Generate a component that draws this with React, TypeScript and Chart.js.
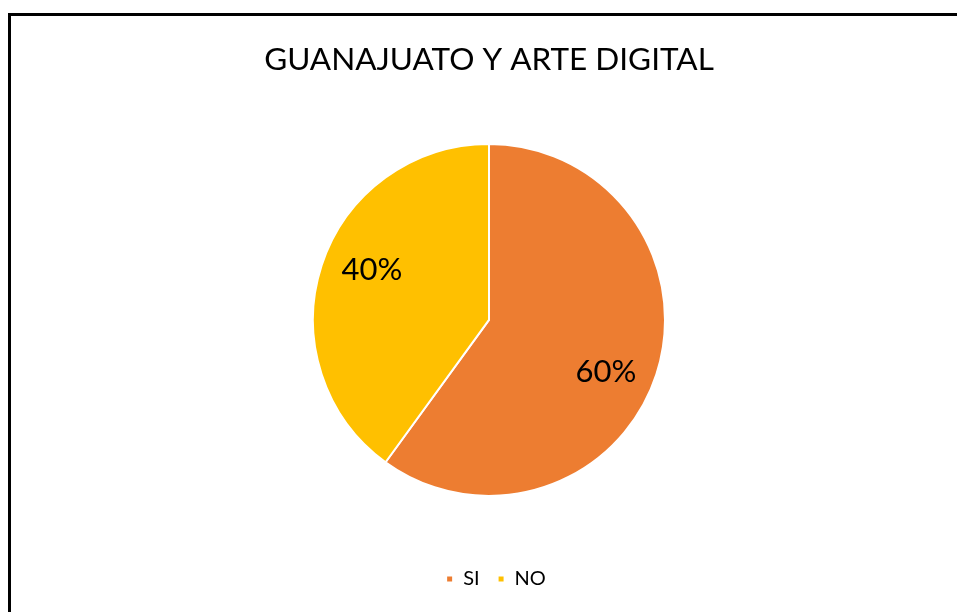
import React, { useEffect, useRef } from "react";
import { Chart, registerables } from "chart.js";

Chart.register(...registerables);

const titleText = "GUANAJUATO Y ARTE DIGITAL";
const categories = ["SI", "NO"];
const values = [60, 40];
const colors = ["#ED7D31", "#FFC000"];
const valueLabels = ["60%", "40%"];

const labelPlugin = {
  id: "sliceLabels",
  afterLayout(chart: any) {
    const lg = chart.legend;
    if (lg) {
      lg.left += 7;
      lg.right += 7;
    }
  },
  afterDatasetsDraw(chart: any) {
    const ctx = chart.ctx;
    const meta = chart.getDatasetMeta(0);
    ctx.save();
    ctx.font = "31px Lato";
    ctx.fillStyle = "#000";
    ctx.textAlign = "center";
    ctx.textBaseline = "middle";
    const angleShift = (5.5 * Math.PI) / 180;
    meta.data.forEach((arc: any, i: number) => {
      const p = arc.getProps(["x", "y", "startAngle", "endAngle", "outerRadius"], true);
      const mid = (p.startAngle + p.endAngle) / 2 + angleShift;
      const r = p.outerRadius * 0.725;
      ctx.fillText(valueLabels[i], p.x + Math.cos(mid) * r, p.y + Math.sin(mid) * r + 1);
    });
    ctx.restore();
  },
};

export default function App() {
  const ref = useRef<HTMLCanvasElement>(null);
  useEffect(() => {
    if (!ref.current) return;
    const chart = new Chart(ref.current, {
      type: "pie",
      data: {
        labels: categories,
        datasets: [
          {
            data: values,
            backgroundColor: colors,
            borderColor: "#fff",
            borderWidth: 2,
          },
        ],
      },
      options: {
        animation: false,
        responsive: true,
        maintainAspectRatio: false,
        radius: 176,
        layout: { padding: { left: 10, bottom: 13 } },
        plugins: {
          title: {
            display: true,
            text: titleText,
            color: "#000",
            font: { family: "Lato", size: 31.5, weight: "normal" },
            padding: { top: 25, bottom: 10 },
          },
          legend: {
            display: true,
            position: "bottom",
            labels: {
              color: "#000",
              font: { family: "Lato", size: 20 },
              boxWidth: 7,
              boxHeight: 7,
              padding: 18,
            },
          },
          tooltip: { enabled: false },
        },
      } as any,
      plugins: [labelPlugin],
    });
    return () => chart.destroy();
  }, []);
  return (
    <div
      style={{
        position: "absolute",
        left: 8,
        top: 13,
        width: 949,
        height: 599,
        borderTop: "3px solid #000",
        borderLeft: "3px solid #000",
        boxSizing: "border-box",
        background: "#fff",
      }}
    >
      <div style={{ position: "relative", width: 946, height: 596 }}>
        <canvas ref={ref} />
      </div>
    </div>
  );
}
